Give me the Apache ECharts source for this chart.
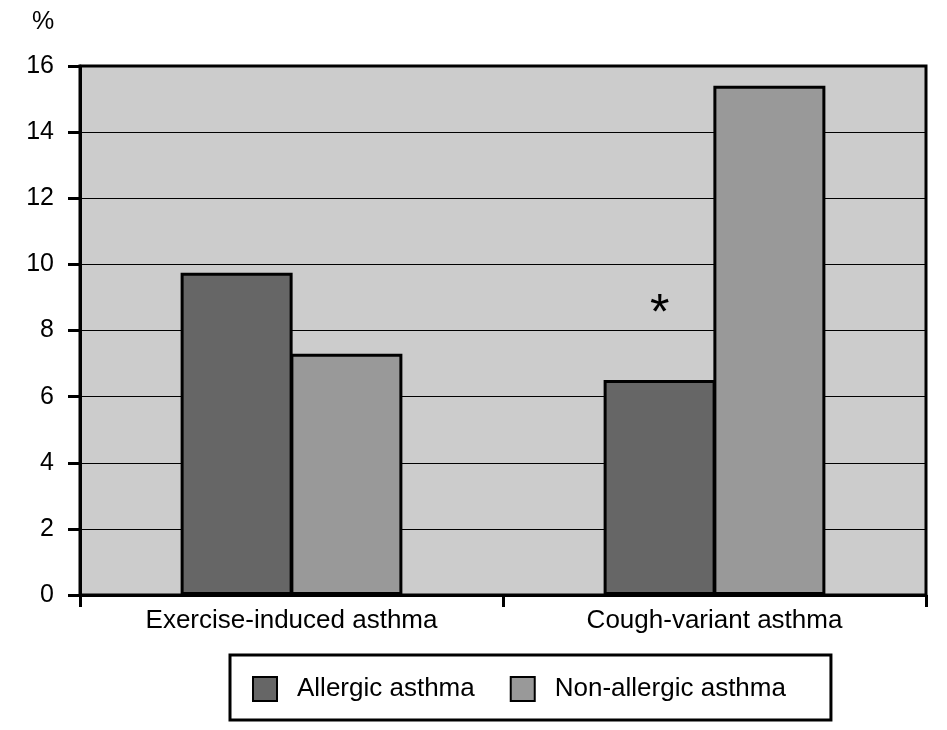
<!DOCTYPE html>
<html>
<head>
<meta charset="utf-8">
<script src="https://cdn.jsdelivr.net/npm/echarts@6/dist/echarts.min.js"></script>
<style>html,body{margin:0;padding:0;background:#fff;}#c{width:947px;height:730px;}</style>
</head>
<body>
<div id="c"></div>
<script>
var categories = ['Exercise-induced asthma', 'Cough-variant asthma'];
var allergic = [9.75, 6.5];
var nonAllergic = [7.3, 15.4];
var seriesNames = ['Allergic asthma', 'Non-allergic asthma'];
var yTicks = [0, 2, 4, 6, 8, 10, 12, 14, 16];
var significantIndex = 1; // '*' marked on allergic, cough-variant

var FONT = '"Liberation Sans", Arial, sans-serif';
var chart = echarts.init(document.getElementById('c'), null, {renderer: 'canvas'});

var allergicData = allergic.map(function (v, i) {
  if (i === significantIndex) {
    return {value: v, label: {show: true, position: 'top', distance: 40, formatter: '*', fontSize: 50, color: '#000', fontFamily: FONT}};
  }
  return v;
});

chart.setOption({
  animation: false,
  backgroundColor: '#fff',
  textStyle: {fontFamily: FONT, color: '#000'},
  graphic: [{type: 'text', left: 32, top: 10, style: {text: '%', font: '25px ' + FONT, fill: '#000'}}],
  grid: {left: 80, right: 21, top: 66, bottom: 135, show: true, backgroundColor: '#cccccc', borderColor: '#000', borderWidth: 3},
  legend: {
    data: seriesNames,
    left: 230, top: 655,
    orient: 'horizontal',
    padding: [21, 45, 18, 22],
    itemWidth: 24, itemHeight: 24, itemGap: 35,
    borderColor: '#000', borderWidth: 3,
    icon: 'rect',
    textStyle: {fontSize: 26, color: '#000', fontFamily: FONT, padding: [0, 0, 0, 15]}
  },
  xAxis: {
    type: 'category', data: categories,
    axisLine: {lineStyle: {color: '#000', width: 3}},
    axisTick: {show: true, length: 12, lineStyle: {color: '#000', width: 3}},
    axisLabel: {fontSize: 26, color: '#000', margin: 13, fontFamily: FONT}
  },
  yAxis: {
    type: 'value', min: yTicks[0], max: yTicks[yTicks.length - 1], interval: 2,
    axisLine: {show: true, lineStyle: {color: '#000', width: 3}},
    axisTick: {show: true, length: 12, lineStyle: {color: '#000', width: 3}},
    axisLabel: {fontSize: 25, color: '#000', margin: 26, fontFamily: FONT},
    splitLine: {show: true, lineStyle: {color: '#000', width: 1}}
  },
  series: [
    {name: seriesNames[0], type: 'bar', data: allergicData, barWidth: 112, barGap: '-2%',
     itemStyle: {color: '#666666', borderColor: '#000', borderWidth: 3}},
    {name: seriesNames[1], type: 'bar', data: nonAllergic, barWidth: 112, barGap: '-2%',
     itemStyle: {color: '#999999', borderColor: '#000', borderWidth: 3}}
  ]
});
</script>
</body>
</html>
